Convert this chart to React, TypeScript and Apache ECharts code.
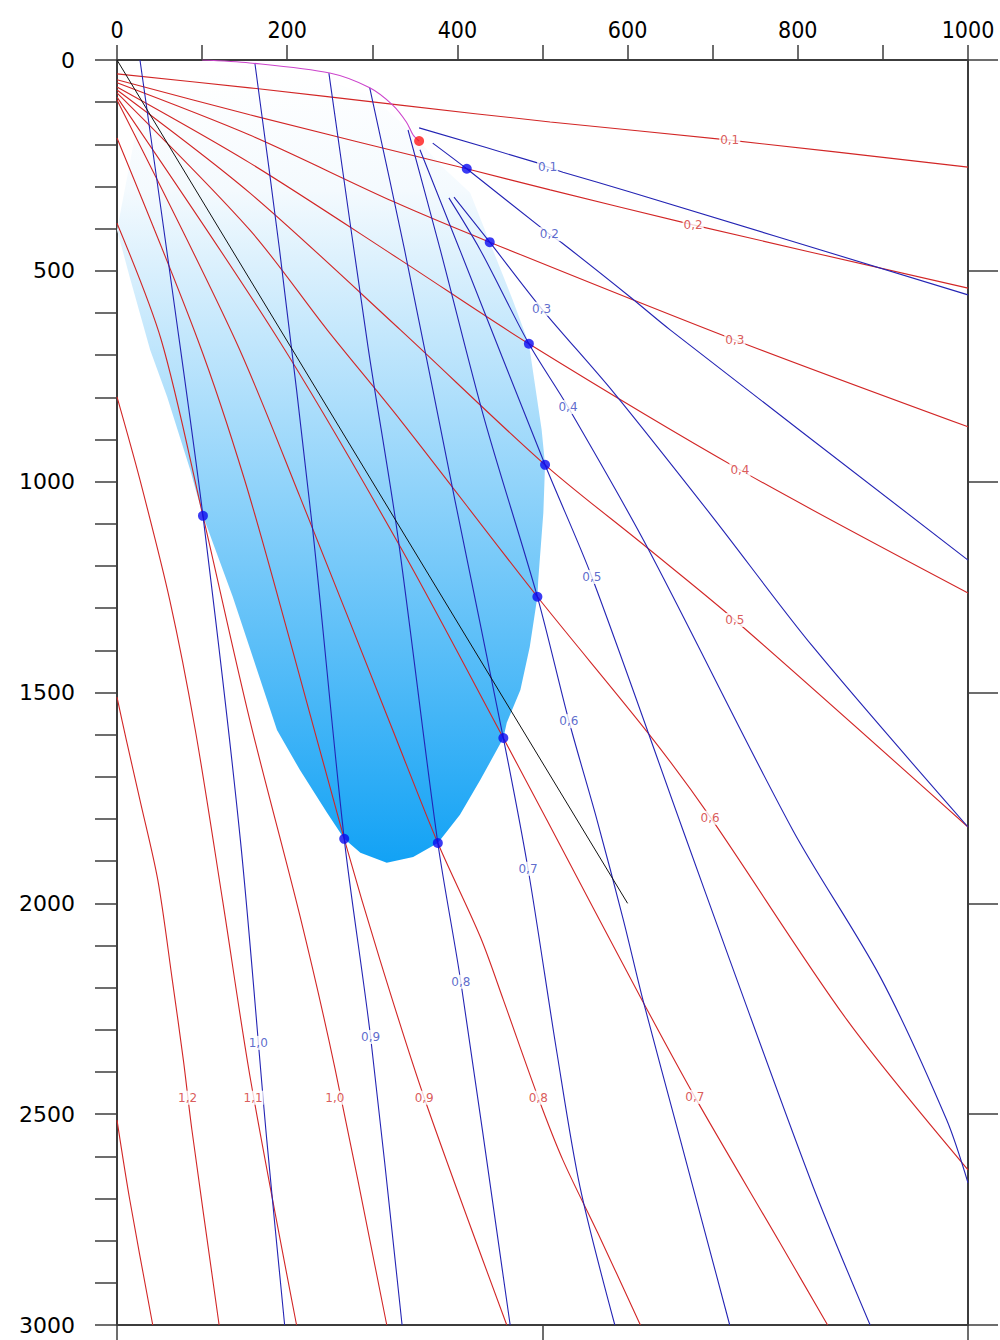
import React, { useEffect, useRef } from "react";
import * as echarts from "echarts";

// Axis ranges and tick labels
const xMax = 1000;
const yMax = 3000;
const xLabelStep = 200;
const yLabelStep = 500;

// Red family (labelled 0,1 … 1,2; the last one is unlabelled)
const red01 = [[0, 33], [156, 66], [333, 107], [509, 147], [720, 190], [1000, 254]];
const red02 = [[0, 47], [156, 130], [411, 258], [509, 308], [677, 391], [1000, 541]];
const red03 = [[0, 54], [156, 178], [326, 337], [438, 432], [726, 664], [1000, 870]];
const red04 = [[0, 64], [156, 244], [333, 474], [484, 673], [732, 972], [1000, 1264]];
const red05 = [[0, 71], [156, 315], [333, 640], [503, 960], [622, 1155], [726, 1328], [1000, 1819]];
const red06 = [[0, 78], [156, 403], [247, 640], [333, 854], [494, 1273], [626, 1601], [697, 1795], [858, 2277], [1000, 2632]];
const red07 = [[0, 88], [190, 664], [333, 1155], [454, 1608], [505, 1802], [615, 2222], [679, 2459], [779, 2805], [835, 3000]];
const red08 = [[0, 95], [139, 664], [215, 1036], [324, 1589], [377, 1857], [427, 2080], [454, 2229], [495, 2461], [524, 2609], [565, 2782], [615, 3000]];
const red09 = [[0, 185], [95, 664], [150, 996], [203, 1375], [267, 1847], [309, 2134], [361, 2461], [458, 3000]];
const red10 = [[0, 387], [52, 664], [101, 1081], [156, 1565], [215, 2030], [256, 2390], [317, 3000]];
const red11 = [[0, 799], [27, 996], [62, 1281], [92, 1589], [124, 1992], [157, 2419], [211, 3000]];
const red12 = [[0, 1511], [11, 1613], [27, 1755], [48, 1945], [65, 2182], [78, 2372], [88, 2537], [120, 3000]];
const red13 = [[0, 2514], [15, 2703], [42, 3000]];

// Blue family (labelled 0,1 … 1,0)
const blue01 = [[355, 161], [494, 244], [506, 254], [524, 266], [603, 313], [1000, 557]];
const blue02 = [[371, 197], [411, 258], [508, 413], [523, 434], [603, 562], [650, 640], [1000, 1186]];
const blue03 = [[396, 325], [438, 432], [499, 590], [583, 787], [700, 1084], [818, 1392], [1000, 1819]];
const blue04 = [[390, 327], [427, 451], [484, 673], [530, 823], [623, 1155], [794, 1826], [897, 2175], [975, 2514], [1000, 2663]];
const blue05 = [[356, 213], [403, 451], [503, 960], [558, 1226], [665, 1826], [720, 2134], [818, 2672], [885, 3000]];
const blue06 = [[342, 166], [380, 451], [432, 854], [494, 1273], [531, 1567], [564, 1802], [595, 2039], [618, 2229], [662, 2561], [720, 3000]];
const blue07 = [[297, 66], [338, 451], [397, 1043], [454, 1608], [483, 1918], [517, 2355], [544, 2672], [585, 3000]];
const blue08 = [[249, 31], [295, 681], [329, 1115], [377, 1857], [404, 2186], [462, 3000]];
const blue09 = [[162, 7], [191, 450], [230, 1115], [267, 1847], [298, 2317], [335, 3000]];
const blue10 = [[27, 0], [65, 546], [101, 1081], [145, 1850], [176, 2561], [197, 3000]];

// Boundary curve, straight guide line
const magentaCurve = [[100, 0], [156, 7], [250, 31], [297, 66], [324, 107], [340, 147], [348, 178], [355, 192]];
const guideLine = [[0, 0], [600, 2000]];

// Intersections of equal-valued red and blue curves
const blueDots = [[101, 1081], [267, 1847], [377, 1857], [454, 1608], [494, 1273], [503, 960], [484, 673], [438, 432], [411, 258]];
const redDot = [[355, 192]];

// Outline of the shaded region
const regionOutline = [
  [0, 403], [27, 119], [98, 36], [215, 28], [297, 83], [344, 166], [380, 249], [415, 315],
  [438, 432], [465, 569], [484, 673], [499, 877], [503, 960], [501, 1074], [495, 1233], [494, 1273],
  [485, 1392], [474, 1494], [458, 1572], [454, 1608], [427, 1707], [403, 1790], [377, 1857],
  [348, 1890], [317, 1904], [286, 1880], [267, 1847], [247, 1786], [215, 1684], [188, 1589],
  [136, 1273], [101, 1081], [86, 972], [59, 799], [39, 688], [15, 515],
];

// Curve labels: [x, y, text]
const redLabels = [
  [720, 190, "0,1"], [677, 391, "0,2"], [726, 664, "0,3"], [732, 972, "0,4"], [726, 1328, "0,5"],
  [697, 1797, "0,6"], [679, 2459, "0,7"], [495, 2461, "0,8"], [361, 2461, "0,9"], [256, 2461, "1,0"],
  [160, 2461, "1,1"], [83, 2461, "1,2"],
];
const blueLabels = [
  [506, 254, "0,1"], [508, 413, "0,2"], [499, 590, "0,3"], [530, 823, "0,4"], [558, 1226, "0,5"],
  [531, 1568, "0,6"], [483, 1918, "0,7"], [404, 2186, "0,8"], [298, 2317, "0,9"], [166, 2331, "1,0"],
];

const redCurves = [red01, red02, red03, red04, red05, red06, red07, red08, red09, red10, red11, red12, red13];
const blueCurves = [blue01, blue02, blue03, blue04, blue05, blue06, blue07, blue08, blue09, blue10];

const RED = "#d22626";
const BLUE = "#2424b4";
const AXIS = "#3c3c3c";

function lineSeries(data: number[][], color: string, width = 1.1) {
  return {
    type: "line",
    data,
    showSymbol: false,
    symbol: "none",
    smooth: 0.3,
    lineStyle: { color, width },
    z: 3,
    silent: true,
  };
}

function labelSeries(data: (number | string)[][], color: string) {
  return {
    type: "scatter",
    data,
    symbolSize: 1,
    itemStyle: { color: "rgba(0,0,0,0)" },
    z: 6,
    silent: true,
    label: {
      show: true,
      position: "inside",
      formatter: (p: any) => p.data[2],
      color,
      fontFamily: "DejaVu Sans",
      fontSize: 12,
      backgroundColor: "#ffffff",
      padding: [1, 1],
    },
  };
}

export default function App() {
  const ref = useRef<HTMLDivElement>(null);

  useEffect(() => {
    document.body.style.margin = "0";
    const chart = echarts.init(ref.current as HTMLDivElement, undefined, { renderer: "svg" });

    const option: any = {
      animation: false,
      backgroundColor: "#ffffff",
      grid: { left: 117, top: 60, right: 32, bottom: 15, containLabel: false },
      xAxis: [
        {
          type: "value",
          position: "top",
          min: 0,
          max: xMax,
          interval: 100,
          axisLine: { show: true, onZero: false, lineStyle: { color: AXIS, width: 2 } },
          axisTick: { show: true, inside: false, length: 15, lineStyle: { color: AXIS, width: 1.5 } },
          axisLabel: {
            formatter: (v: number) => (v % xLabelStep === 0 ? String(v) : ""),
            fontFamily: "DejaVu Sans Condensed",
            fontSize: 23,
            color: "#000",
            margin: 19,
          },
          splitLine: { show: false },
        },
        {
          type: "value",
          position: "bottom",
          min: 0,
          max: xMax,
          interval: 500,
          axisLine: { show: true, onZero: false, lineStyle: { color: AXIS, width: 2 } },
          axisTick: { show: true, inside: false, length: 15, lineStyle: { color: AXIS, width: 1.5 } },
          axisLabel: { show: false },
          splitLine: { show: false },
        },
      ],
      yAxis: [
        {
          type: "value",
          position: "left",
          inverse: true,
          min: 0,
          max: yMax,
          interval: 100,
          axisLine: { show: true, onZero: false, lineStyle: { color: AXIS, width: 2 } },
          axisTick: { show: true, inside: false, length: 22, lineStyle: { color: AXIS, width: 1.5 } },
          axisLabel: {
            formatter: (v: number) => (v % yLabelStep === 0 ? String(v) : ""),
            fontFamily: "DejaVu Sans",
            fontSize: 22,
            color: "#000",
            margin: 42,
          },
          splitLine: { show: false },
        },
        {
          type: "value",
          position: "right",
          inverse: true,
          min: 0,
          max: yMax,
          interval: 500,
          axisLine: { show: true, onZero: false, lineStyle: { color: AXIS, width: 2 } },
          axisTick: { show: true, inside: false, length: 30, lineStyle: { color: AXIS, width: 1.5 } },
          axisLabel: { show: false },
          splitLine: { show: false },
        },
      ],
      series: [
        {
          type: "custom",
          data: [[0, 0]],
          z: 1,
          silent: true,
          renderItem: (_params: any, api: any) => {
            const pts = regionOutline.map((p) => api.coord(p));
            return {
              type: "polygon",
              shape: { points: pts },
              style: {
                fill: new echarts.graphic.LinearGradient(0, 0, 0, 1, [
                  { offset: 0, color: "#ffffff" },
                  { offset: 0.15, color: "#f4fafe" },
                  { offset: 1, color: "#12a2f5" },
                ]),
              },
            };
          },
        },
        ...redCurves.map((c) => lineSeries(c, RED)),
        ...blueCurves.map((c) => lineSeries(c, BLUE)),
        lineSeries(magentaCurve, "#cc44cc"),
        { ...lineSeries(guideLine, "#111111", 1), smooth: false },
        {
          type: "scatter",
          data: blueDots,
          symbolSize: 10,
          itemStyle: { color: "#0a0af0" },
          z: 7,
          silent: true,
        },
        {
          type: "scatter",
          data: redDot,
          symbolSize: 10,
          itemStyle: { color: "#ff1818" },
          z: 7,
          silent: true,
        },
        labelSeries(redLabels, "#d03030"),
        labelSeries(blueLabels, "#3446c0"),
      ],
    };

    chart.setOption(option);
    return () => chart.dispose();
  }, []);

  return <div ref={ref} style={{ width: 1000, height: 1340 }} />;
}
